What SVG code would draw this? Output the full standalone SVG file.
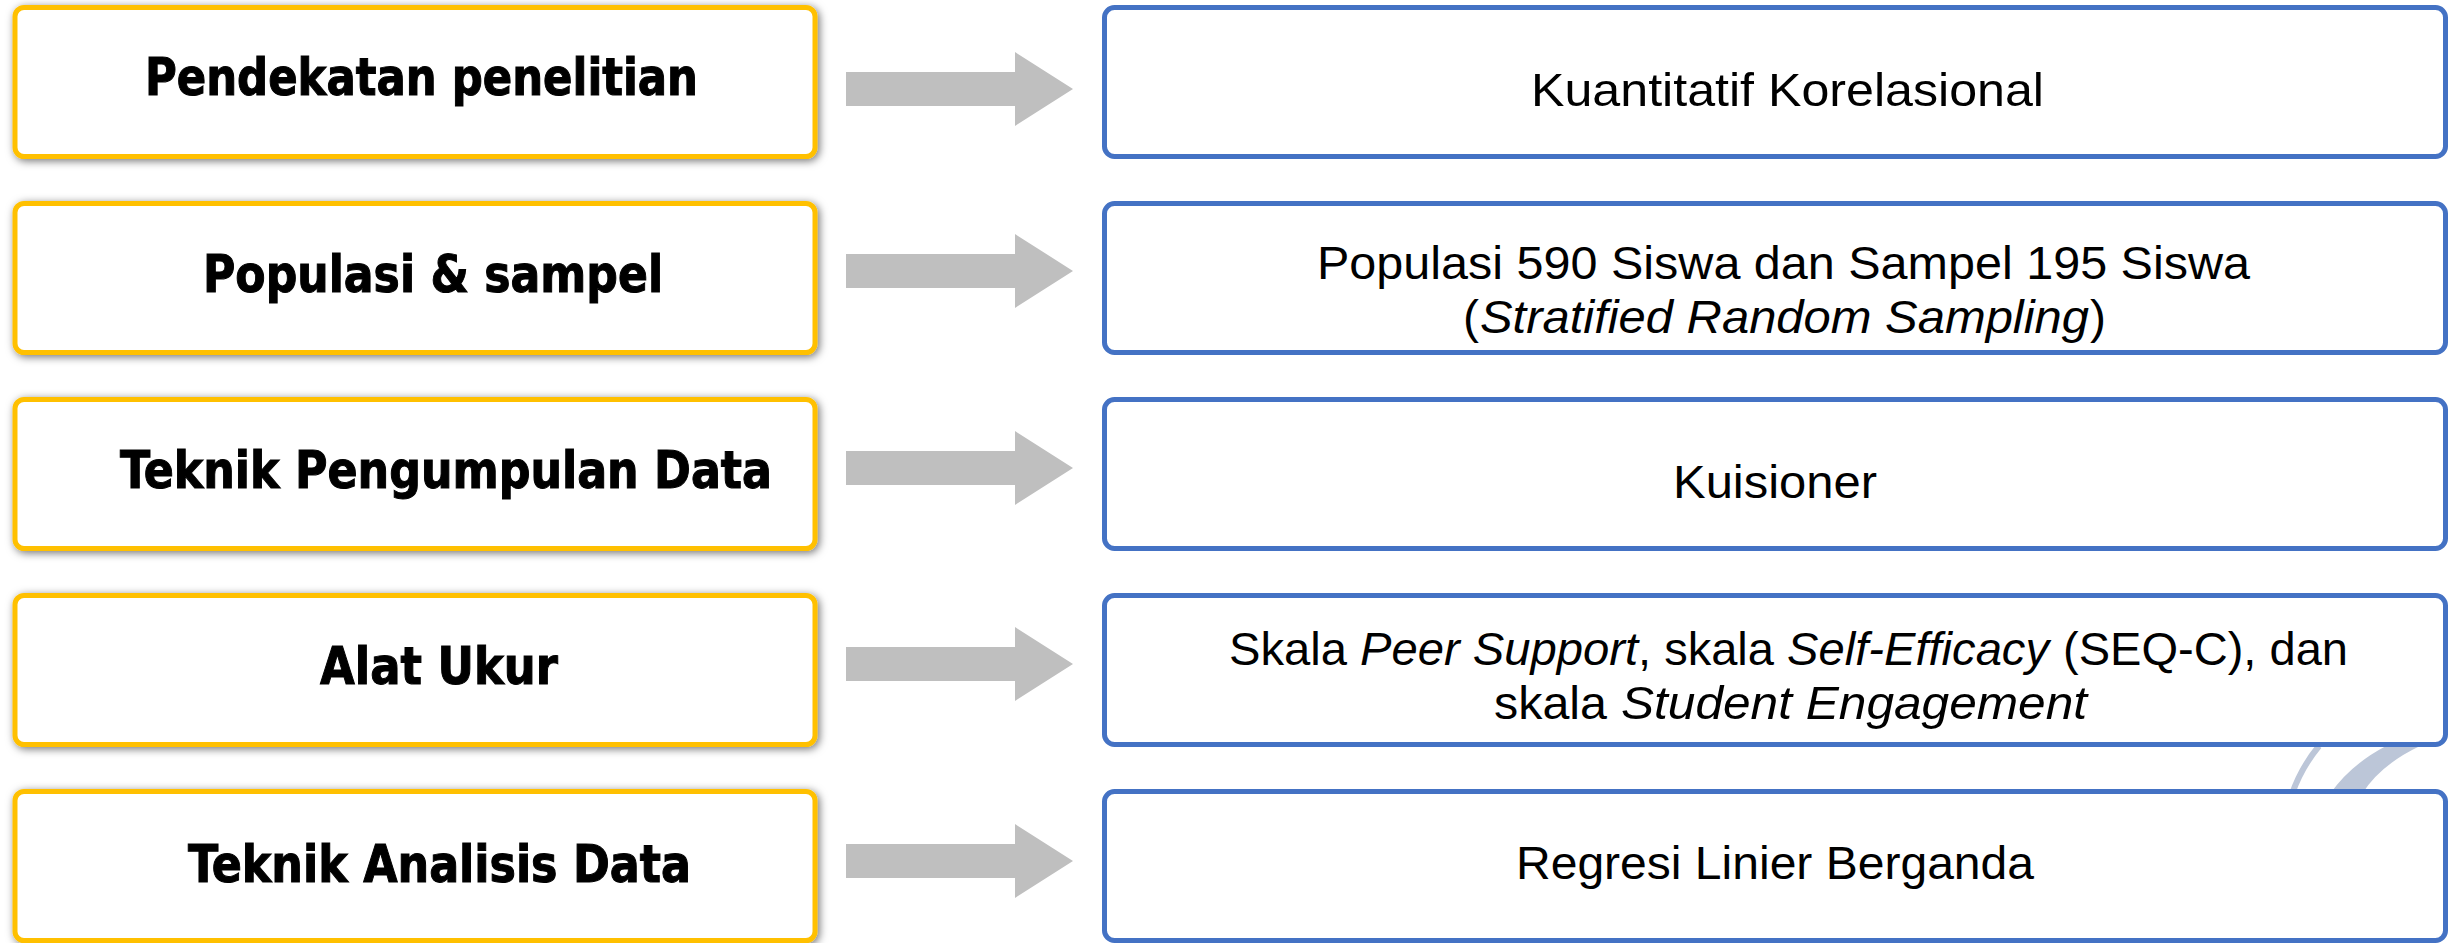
<svg xmlns="http://www.w3.org/2000/svg" width="2450" height="943" viewBox="0 0 2450 943">
<style>
.lbox{fill:#fff;stroke:#FFC000;stroke-width:5}
.rbox{fill:#fff;stroke:#4472C4;stroke-width:5}
.arrow{fill:#BFBFBF}
.lt{font-family:"DejaVu Sans Condensed","DejaVu Sans","Liberation Sans",sans-serif;font-weight:bold;font-size:52px;fill:#000;stroke:#000;stroke-width:1}
.rt{font-family:"Liberation Sans","Open Sans",sans-serif;font-size:47px;fill:#000}
.it{font-style:italic}
.bg{fill:none;stroke:#BCC6D8}
</style>
<defs>
<filter id="sh" x="-5%" y="-20%" width="110%" height="140%">
<feDropShadow dx="2" dy="2" stdDeviation="4" flood-color="#000" flood-opacity="0.55"/>
</filter>
</defs>
<g id="background">
<path class="bg" d="M2319,746 Q2301,768 2292,794" stroke-width="6"/>
<path d="M2386,746 L2420,746 Q2380,765 2362,794 L2330,794 Q2350,765 2386,746 Z" fill="#BCC6D8"/>
</g>
<g id="connectors">
<polygon class="arrow" points="846,72 1015,72 1015,52 1073,89 1015,126 1015,106 846,106"/>
<polygon class="arrow" points="846,254 1015,254 1015,234 1073,271 1015,308 1015,288 846,288"/>
<polygon class="arrow" points="846,451 1015,451 1015,431 1073,468 1015,505 1015,485 846,485"/>
<polygon class="arrow" points="846,647 1015,647 1015,627 1073,664 1015,701 1015,681 846,681"/>
<polygon class="arrow" points="846,844 1015,844 1015,824 1073,861 1015,898 1015,878 846,878"/>
</g>
<g id="left1">
<rect class="lbox" x="15" y="7.5" width="800" height="149" rx="9" filter="url(#sh)"/>
<text class="lt" x="145" y="95" textLength="553" lengthAdjust="spacingAndGlyphs">Pendekatan penelitian</text>
</g>
<g id="left2">
<rect class="lbox" x="15" y="203.5" width="800" height="149" rx="9" filter="url(#sh)"/>
<text class="lt" x="203" y="292" textLength="460" lengthAdjust="spacingAndGlyphs">Populasi &amp; sampel</text>
</g>
<g id="left3">
<rect class="lbox" x="15" y="399.5" width="800" height="149" rx="9" filter="url(#sh)"/>
<text class="lt" x="120" y="488" textLength="652" lengthAdjust="spacingAndGlyphs">Teknik Pengumpulan Data</text>
</g>
<g id="left4">
<rect class="lbox" x="15" y="595.5" width="800" height="149" rx="9" filter="url(#sh)"/>
<text class="lt" x="320" y="684" textLength="238" lengthAdjust="spacingAndGlyphs">Alat Ukur</text>
</g>
<g id="left5">
<rect class="lbox" x="15" y="791.5" width="800" height="149" rx="9" filter="url(#sh)"/>
<text class="lt" x="188" y="882" textLength="503" lengthAdjust="spacingAndGlyphs">Teknik Analisis Data</text>
</g>
<g id="right1">
<rect class="rbox" x="1104.5" y="7.5" width="1341" height="149" rx="10"/>
<text class="rt" x="1531" y="106" textLength="513" lengthAdjust="spacingAndGlyphs">Kuantitatif Korelasional</text>
</g>
<g id="right2">
<rect class="rbox" x="1104.5" y="203.5" width="1341" height="149" rx="10"/>
<text class="rt" x="1317" y="279" textLength="933" lengthAdjust="spacingAndGlyphs">Populasi 590 Siswa dan Sampel 195 Siswa</text>
<text class="rt" x="1463" y="333" textLength="16" lengthAdjust="spacingAndGlyphs">(</text>
<text class="rt it" x="1480" y="333" textLength="609" lengthAdjust="spacingAndGlyphs">Stratified Random Sampling</text>
<text class="rt" x="2090" y="333" textLength="16" lengthAdjust="spacingAndGlyphs">)</text>
</g>
<g id="right3">
<rect class="rbox" x="1104.5" y="399.5" width="1341" height="149" rx="10"/>
<text class="rt" x="1673" y="498" textLength="204" lengthAdjust="spacingAndGlyphs">Kuisioner</text>
</g>
<g id="right4">
<rect class="rbox" x="1104.5" y="595.5" width="1341" height="149" rx="10"/>
<text class="rt" x="1229" y="665" textLength="118" lengthAdjust="spacingAndGlyphs">Skala</text>
<text class="rt it" x="1360" y="665" textLength="278" lengthAdjust="spacingAndGlyphs">Peer Support</text>
<text class="rt" x="1638" y="665" textLength="136" lengthAdjust="spacingAndGlyphs">, skala</text>
<text class="rt it" x="1787" y="665" textLength="262" lengthAdjust="spacingAndGlyphs">Self-Efficacy</text>
<text class="rt" x="2063" y="665" textLength="285" lengthAdjust="spacingAndGlyphs">(SEQ-C), dan</text>
<text class="rt" x="1494" y="719" textLength="113" lengthAdjust="spacingAndGlyphs">skala</text>
<text class="rt it" x="1621" y="719" textLength="466" lengthAdjust="spacingAndGlyphs">Student Engagement</text>
</g>
<g id="right5">
<rect class="rbox" x="1104.5" y="791.5" width="1341" height="149" rx="10"/>
<text class="rt" x="1516" y="879" textLength="518" lengthAdjust="spacingAndGlyphs">Regresi Linier Berganda</text>
</g>
</svg>
